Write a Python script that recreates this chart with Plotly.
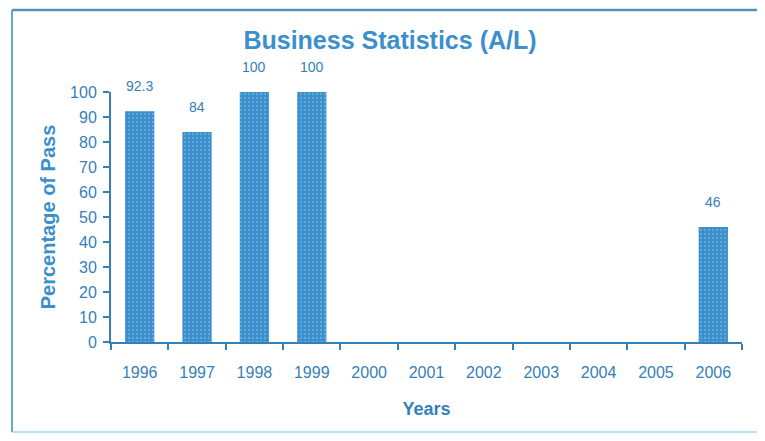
import plotly.graph_objects as go

years = ["1996", "1997", "1998", "1999", "2000", "2001", "2002", "2003", "2004", "2005", "2006"]
pass_pct = [92.3, 84, 100, 100, None, None, None, None, None, None, 46]
bar_labels = ["92.3", "84", "100", "100", "", "", "", "", "", "", "46"]

blue = "#3b8fcc"
dark = "#3580b8"
font = "Liberation Sans, Arial"

fig = go.Figure()
fig.add_trace(
    go.Bar(
        x=years,
        y=pass_pct,
        marker=dict(
            color=blue,
            line=dict(width=0),
            pattern=dict(shape=".", fgcolor="#8cc3ea", size=4, solidity=0.25),
        ),
    )
)

# value labels sit a bit higher above the bars than plotly's "outside" text
# (x is the category index: numeric strings would be read as indices)
for i, (v, lab) in enumerate(zip(pass_pct, bar_labels)):
    if lab:
        fig.add_annotation(
            x=i, y=v, text=lab, showarrow=False, yshift=25,
            font=dict(family=font, size=14, color=dark),
        )

# page has an 8px body margin on every side; keep the figure inside the
# window so no scrollbar appears
W, H = 757, 425
L, R, T, B = 103, 23, 84, 91
pw, ph = W - L - R, H - T - B


def px(x):
    return (x - L) / pw


def py(y):
    return (H - B - y) / ph


# scanned frame: left, top and bottom edges only
frame = [
    (4, 2, 4, 424, "#6aa8c8", 2),
    (4, 2, 800, 2, "#4f93b8", 2.5),
    (4, 424, 800, 424, "#a8d4ec", 1.5),
]

fig.update_layout(
    width=W,
    height=H,
    margin=dict(l=L, r=R, t=T, b=B),
    paper_bgcolor="white",
    plot_bgcolor="white",
    bargap=0.49,
    showlegend=False,
    title=dict(
        text="<b>Business Statistics (A/L)</b>",
        xref="paper",
        x=px(382),
        xanchor="center",
        y=1 - 32 / H,
        yanchor="middle",
        font=dict(family=font, size=25, color=blue),
    ),
    xaxis=dict(
        type="category",
        showline=True,
        linecolor=dark,
        linewidth=2,
        ticks="outside",
        tickson="boundaries",
        ticklen=6,
        tickwidth=2,
        tickcolor=dark,
        ticklabelstandoff=15,
        tickfont=dict(family=font, size=16, color=dark),
        showgrid=False,
        title=dict(
            text="<b>Years</b>",
            font=dict(family=font, size=18, color=dark),
            standoff=22,
        ),
    ),
    yaxis=dict(
        range=[0, 100],
        dtick=10,
        showline=True,
        linecolor=dark,
        linewidth=2,
        ticks="outside",
        ticklen=6,
        tickwidth=2,
        tickcolor=dark,
        ticklabelstandoff=3,
        tickfont=dict(family=font, size=16, color=dark),
        showgrid=False,
        zeroline=False,
        title=dict(
            text="<b>Percentage of Pass</b>",
            font=dict(family=font, size=20, color=blue),
            standoff=9,
        ),
    ),
    shapes=[
        dict(
            type="line",
            xref="paper",
            yref="paper",
            x0=px(a),
            y0=py(b),
            x1=px(c),
            y1=py(d),
            line=dict(color=col, width=w),
            layer="below",
        )
        for a, b, c, d, col, w in frame
    ],
)

fig.write_html("out.html")
